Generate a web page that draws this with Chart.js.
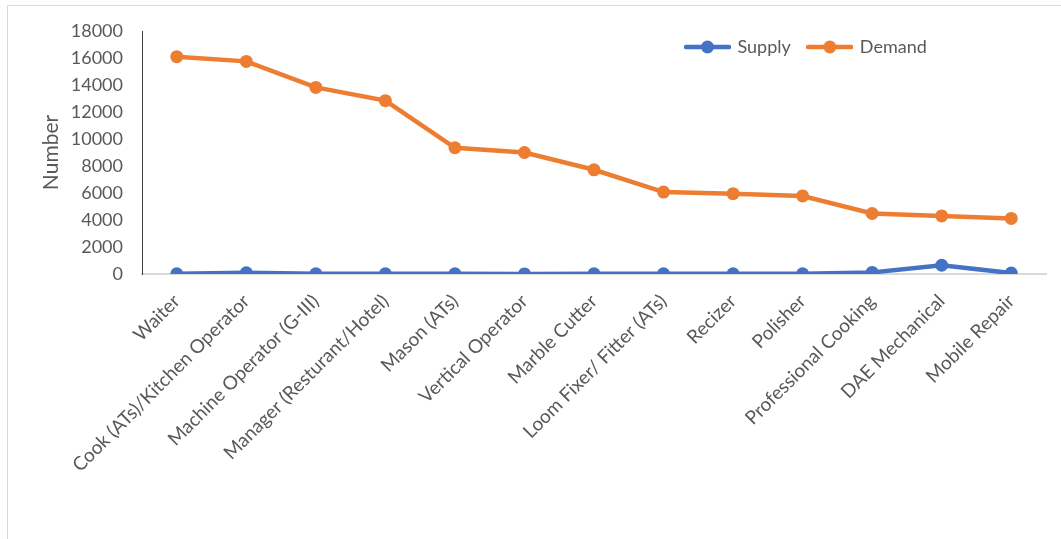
<!DOCTYPE html>
<html>
<head>
<meta charset="utf-8">
<script src="https://cdn.jsdelivr.net/npm/chart.js@4"></script>
<style>
    body { margin: 0; background: #fff; }
    #frame {
        position: absolute; left: 7px; top: 5px; width: 1054px; height: 534px;
        border-top: 1px solid #d9d9d9; border-left: 1px solid #d9d9d9;
    }
    #chart { display: block; }
</style>
</head>
<body>
<div id="frame"><canvas id="chart" width="1053" height="533"></canvas></div>
<script>
var trades = ["Waiter", "Cook (ATs)/Kitchen Operator", "Machine Operator (G-III)", "Manager (Resturant/Hotel)",
    "Mason (ATs)", "Vertical Operator", "Marble Cutter", "Loom Fixer/ Fitter (ATs)", "Recizer", "Polisher",
    "Professional Cooking", "DAE Mechanical", "Mobile Repair"];
var supply = [10, 90, 15, 10, 10, 5, 10, 10, 10, 20, 120, 650, 70];
var demand = [16100, 15750, 13820, 12840, 9350, 9000, 7720, 6070, 5950, 5780, 4480, 4300, 4120];
var yTicks = [0, 2000, 4000, 6000, 8000, 10000, 12000, 14000, 16000, 18000];

var blue = '#4472C4';
var orange = '#ED7D31';
var grey = '#595959';

// legend marker: short line with a dot in the middle
function legendIcon(color) {
    var c = document.createElement('canvas');
    c.width = 47;
    c.height = 14;
    var g = c.getContext('2d');
    g.strokeStyle = color;
    g.lineWidth = 4.5;
    g.lineCap = 'round';
    g.beginPath();
    g.moveTo(2, 7);
    g.lineTo(45, 7);
    g.stroke();
    g.fillStyle = color;
    g.beginPath();
    g.arc(23.5, 7, 6.5, 0, Math.PI * 2);
    g.fill();
    return c;
}
var icons = [legendIcon(blue), legendIcon(orange)];

// the legend sits inside the plot, upper right
var moveLegend = {
    id: 'moveLegend',
    afterLayout: function(chart) {
        var lg = chart.legend;
        var pad = lg.options.labels.padding;
        var startX = (lg.left + pad + lg.right - lg.lineWidths[0]) / 2;
        var dx = 678.5 - startX;
        var dy = 41 - (lg.top + pad + 9);
        lg.left += dx;
        lg.right += dx;
        lg.top += dy;
        lg.bottom += dy;
    }
};

var ctx = document.getElementById('chart').getContext('2d');
var chart = new Chart(ctx, {
    type: 'line',
    data: {
        labels: trades,
        datasets: [{
            label: 'Supply',
            data: supply,
            borderColor: blue,
            backgroundColor: blue,
            borderWidth: 4.5,
            pointRadius: 6.5,
            pointBorderWidth: 0,
            tension: 0,
            fill: false
        }, {
            label: 'Demand',
            data: demand,
            borderColor: orange,
            backgroundColor: orange,
            borderWidth: 4.5,
            pointRadius: 6.5,
            pointBorderWidth: 0,
            tension: 0,
            fill: false
        }]
    },
    plugins: [moveLegend],
    options: {
        responsive: false,
        animation: false,
        layout: {
            padding: { left: 0, right: 15, top: -21, bottom: 0 }
        },
        plugins: {
            tooltip: { enabled: false },
            legend: {
                position: 'top',
                align: 'center',
                labels: {
                    usePointStyle: true,
                    pointStyleWidth: 42,
                    padding: 18,
                    color: grey,
                    font: { family: 'Lato', size: 18 },
                    generateLabels: function(chart) {
                        var items = Chart.defaults.plugins.legend.labels.generateLabels(chart);
                        items.forEach(function(it, i) {
                            it.pointStyle = icons[i];
                        });
                        return items;
                    }
                }
            }
        },
        scales: {
            x: {
                offset: true,
                grid: { display: false, drawTicks: false, tickLength: 0 },
                border: { display: true, color: '#d9d9d9', width: 2 },
                ticks: {
                    autoSkip: false,
                    minRotation: 45,
                    maxRotation: 45,
                    padding: 16,
                    color: grey,
                    font: { family: 'Lato', size: 19 }
                },
                afterFit: function(scale) { scale.height = 265; }
            },
            y: {
                min: 0,
                max: 18000,
                grid: { display: false, drawTicks: false, tickLength: 0 },
                border: { display: true, color: '#404040', width: 1 },
                afterBuildTicks: function(scale) {
                    scale.ticks = yTicks.map(function(v) { return { value: v }; });
                },
                ticks: {
                    padding: 19,
                    color: grey,
                    font: { family: 'Lato', size: 18 },
                    callback: function(v) { return String(v); }
                },
                title: {
                    display: true,
                    text: 'Number',
                    color: grey,
                    font: { family: 'Lato', size: 21 },
                    padding: { top: 31, bottom: 0 }
                },
                afterFit: function(scale) {
                    scale.width = 134;
                    scale.paddingTop = 10;
                    scale.paddingBottom = 10;
                }
            }
        }
    }
});
</script>
</body>
</html>
